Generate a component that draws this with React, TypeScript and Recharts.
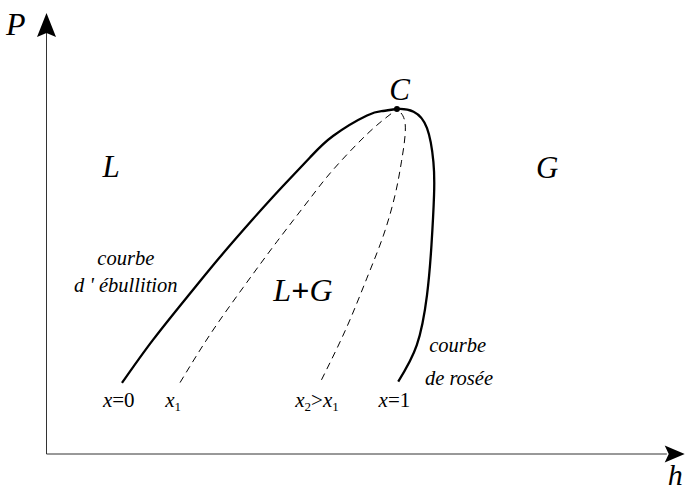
import { LineChart, Line, XAxis, YAxis, ReferenceDot, ReferenceLine } from "recharts"

// enthalpy h (x) and pressure P (y), arbitrary units 0..100
const critical = { h: 54.8, P: 77.7 }

const bubbleCurve = [
  { h: 11.8, P: 16.0 },
  { h: 16.65, P: 25.7 },
  { h: 22.44, P: 36.15 },
  { h: 27.13, P: 44.37 },
  { h: 32.29, P: 52.93 },
  { h: 36.98, P: 60.36 },
  { h: 41.2, P: 66.78 },
  { h: 44.8, P: 71.62 },
  { h: 50.12, P: 76.24 },
  { h: 52.62, P: 77.25 },
]

const dewCurve = [
  { h: 57.4, P: 77.1 },
  { h: 59.5, P: 73.4 },
  { h: 60.5, P: 65.8 },
  { h: 60.6, P: 58.3 },
  { h: 60.2, P: 47.1 },
  { h: 59.5, P: 35.8 },
  { h: 57.9, P: 24.5 },
  { h: 55.0, P: 16.3 },
]

const qualityX1 = [
  { h: 20.88, P: 16.08 },
  { h: 25.57, P: 26.89 },
  { h: 30.73, P: 37.46 },
  { h: 36.05, P: 47.86 },
  { h: 41.2, P: 57.52 },
  { h: 44.8, P: 63.99 },
  { h: 50.12, P: 72.03 },
  { h: 53.71, P: 76.44 },
]

const qualityX2 = [
  { h: 43.0, P: 16.7 },
  { h: 46.9, P: 28.4 },
  { h: 50.1, P: 39.6 },
  { h: 52.7, P: 49.3 },
  { h: 54.5, P: 58.3 },
  { h: 55.5, P: 65.8 },
  { h: 56.1, P: 74.1 },
]

const dome = [...bubbleCurve, critical, ...dewCurve]
const dashedX1 = [...qualityX1, critical]
const dashedX2 = [...qualityX2, critical]

const serif = "Liberation Serif, Times New Roman, serif"

type Part = { t: string; italic?: boolean; sub?: boolean; bold?: boolean }
type Note = { h: number; P: number; size: number; parts: Part[] }

const notes: Note[] = [
  { h: -4.8, P: 94.4, size: 32, parts: [{ t: "P", italic: true }] },
  { h: 98.3, P: -6.9, size: 30, parts: [{ t: "h", italic: true }] },
  { h: 55.2, P: 79.8, size: 31, parts: [{ t: "C", italic: true }] },
  { h: 10.1, P: 62.4, size: 31, parts: [{ t: "L", italic: true }] },
  { h: 78.3, P: 62.2, size: 31, parts: [{ t: "G", italic: true }] },
  { h: 40.1, P: 34.5, size: 32, parts: [{ t: "L", italic: true }, { t: "+", bold: true }, { t: "G", italic: true }] },
  { h: 12.4, P: 42.6, size: 20.5, parts: [{ t: "courbe", italic: true }] },
  { h: 12.4, P: 36.5, size: 20.5, parts: [{ t: "d ' ébullition", italic: true }] },
  { h: 64.3, P: 23.0, size: 20.5, parts: [{ t: "courbe", italic: true }] },
  { h: 64.5, P: 15.6, size: 20.5, parts: [{ t: "de rosée", italic: true }] },
  { h: 11.3, P: 10.6, size: 21, parts: [{ t: "x", italic: true }, { t: "=0" }] },
  { h: 19.8, P: 10.6, size: 21, parts: [{ t: "x", italic: true }, { t: "1", sub: true }] },
  { h: 42.3, P: 10.6, size: 21, parts: [{ t: "x", italic: true }, { t: "2", sub: true }, { t: ">" }, { t: "x", italic: true }, { t: "1", sub: true }] },
  { h: 54.4, P: 10.6, size: 21, parts: [{ t: "x", italic: true }, { t: "=1" }] },
]

function NoteText({ cx, cy, note }: { cx?: number; cy?: number; note: Note }) {
  let shifted = false
  return (
    <text x={cx} y={cy} textAnchor="middle" fill="#000" style={{ fontFamily: serif, fontSize: note.size }}>
      {note.parts.map((p, i) => {
        let dy = 0
        if (p.sub && !shifted) {
          dy = 4
          shifted = true
        } else if (!p.sub && shifted) {
          dy = -4
          shifted = false
        }
        return (
          <tspan
            key={i}
            dy={dy}
            style={{
              fontFamily: serif,
              fontStyle: p.italic ? "italic" : "normal",
              fontWeight: p.bold ? "bold" : "normal",
              fontSize: p.sub ? note.size * 0.62 : note.size,
            }}
          >
            {p.t}
          </tspan>
        )
      })}
    </text>
  )
}

function ArrowUp({ cx = 0, cy = 0 }: { cx?: number; cy?: number }) {
  return <polygon points={`${cx},${cy} ${cx + 9.5},${cy + 24} ${cx},${cy + 20} ${cx - 9.5},${cy + 24}`} fill="#000" />
}

function ArrowRight({ cx = 0, cy = 0 }: { cx?: number; cy?: number }) {
  return <polygon points={`${cx},${cy} ${cx - 20},${cy + 8.5} ${cx - 16},${cy} ${cx - 20},${cy - 8.5}`} fill="#000" />
}

export default function App() {
  return (
    <div style={{ position: "absolute", left: 0, top: 0, background: "#fff" }}>
      <LineChart width={686} height={490} margin={{ top: 10, right: 0, bottom: 36, left: 46.5 }}>
        <XAxis dataKey="h" type="number" domain={[0, 100]} hide allowDataOverflow />
        <YAxis type="number" domain={[0, 100]} hide allowDataOverflow />

        <ReferenceLine segment={[{ x: 0, y: 0 }, { x: 0, y: 95 }]} stroke="#333" strokeWidth={1} ifOverflow="visible" />
        <ReferenceLine segment={[{ x: 0, y: 0 }, { x: 97, y: 0 }]} stroke="#333" strokeWidth={1} ifOverflow="visible" />
        <ReferenceDot x={0} y={99.3} r={0} ifOverflow="visible" shape={(p: any) => <ArrowUp cx={p.cx} cy={p.cy} />} />
        <ReferenceDot x={99.8} y={0} r={0} ifOverflow="visible" shape={(p: any) => <ArrowRight cx={p.cx} cy={p.cy} />} />

        <Line data={dashedX1} dataKey="P" type="natural" dot={false} stroke="#000" strokeWidth={1} strokeDasharray="7 5" isAnimationActive={false} />
        <Line data={dashedX2} dataKey="P" type="natural" dot={false} stroke="#000" strokeWidth={1} strokeDasharray="7 5" isAnimationActive={false} />
        <Line data={dome} dataKey="P" type="natural" dot={false} stroke="#000" strokeWidth={2.3} isAnimationActive={false} />

        <ReferenceDot x={critical.h} y={critical.P} r={3} fill="#000" stroke="none" ifOverflow="visible" />

        {notes.map((n, i) => (
          <ReferenceDot
            key={i}
            x={n.h}
            y={n.P}
            r={0}
            ifOverflow="visible"
            shape={(p: any) => <NoteText cx={p.cx} cy={p.cy} note={n} />}
          />
        ))}
      </LineChart>
    </div>
  )
}
